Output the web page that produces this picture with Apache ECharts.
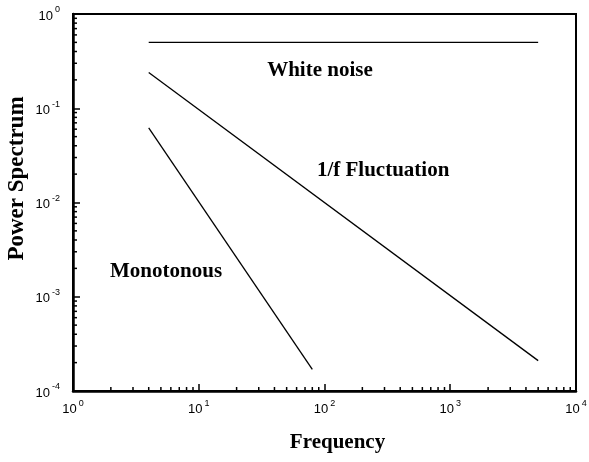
<!DOCTYPE html>
<html>
<head>
<meta charset="utf-8">
<script src="https://cdn.jsdelivr.net/npm/echarts@6/dist/echarts.min.js"></script>
<style>
  html, body { margin: 0; padding: 0; background: #fff; }
  #chart { width: 589px; height: 462px; }
</style>
</head>
<body>
<div id="chart"></div>
<script>
// Power spectra of three kinds of fluctuation (log-log)
const whiteNoise = [[4, 0.5], [5000, 0.5]];
const oneOverF = [[4, 0.24], [5000, 0.00021]];
const monotonous = [[4, 0.062], [80, 0.00017]];

// Axis decade exponents used for the tick labels
const xTickExponents = [0, 1, 2, 3, 4];
const yTickExponents = [-4, -3, -2, -1, 0];

// Curve captions: [text, frequency, power]
const curveLabels = [
  ['White noise', 35, 0.25],
  ['1/f Fluctuation', 87, 0.022],
  ['Monotonous', 1.97, 0.00183]
];

const serif = 'Liberation Serif';
const sans = 'Liberation Sans';

// Minor log ticks at 2..9 within each decade
function minorTicks(exps) {
  const out = [];
  for (let i = 0; i < exps.length - 1; i++) {
    for (let m = 2; m <= 9; m++) out.push(m * Math.pow(10, exps[i]));
  }
  return out;
}
const xMin = Math.pow(10, xTickExponents[0]);
const xMax = Math.pow(10, xTickExponents[xTickExponents.length - 1]);
const yMin = Math.pow(10, yTickExponents[0]);
const yMax = Math.pow(10, yTickExponents[yTickExponents.length - 1]);

const xMinor = minorTicks(xTickExponents).map(v => [v, yMin]);
const yMinor = minorTicks(yTickExponents).map(v => [xMin, v]);

function powLabel(v) {
  const e = Math.round(Math.log10(v));
  return '{b|10}{s|' + e + '}';
}
const tickRich = {
  b: { fontFamily: sans, fontSize: 13, color: '#000', lineHeight: 17, verticalAlign: 'bottom' },
  s: { fontFamily: sans, fontSize: 9, color: '#000', lineHeight: 17, verticalAlign: 'top', padding: [0, 0, 0, 2] }
};

const axisCommon = {
  type: 'log',
  logBase: 10,
  interval: 1,
  nameMoveOverlap: false,
  axisLine: { show: true, lineStyle: { color: '#000', width: 2.5 } },
  axisTick: { show: true, inside: true, length: 7, lineStyle: { color: '#000', width: 1.5 } },
  splitLine: { show: false },
  minorTick: { show: false },
  nameTextStyle: { fontFamily: serif, fontWeight: 'bold', fontSize: 21, color: '#000' }
};

const chart = echarts.init(document.getElementById('chart'), null, { renderer: 'canvas' });

const lineSeries = (name, data) => ({
  name, type: 'line', data,
  showSymbol: false, symbol: 'none',
  lineStyle: { color: '#000', width: 1.3 },
  silent: true, animation: false
});

chart.setOption({
  backgroundColor: '#fff',
  animation: false,
  grid: {
    left: 73, right: 13, top: 14, bottom: 71,
    outerBoundsMode: 'none', containLabel: false,
    show: true, borderColor: '#000', borderWidth: 2, backgroundColor: 'transparent'
  },
  xAxis: Object.assign({}, axisCommon, {
    min: xMin, max: xMax,
    name: 'Frequency', nameLocation: 'middle', nameGap: 41,
    nameTextStyle: Object.assign({}, axisCommon.nameTextStyle, { padding: [0, 0, 0, 26] })
  }, {
    axisLabel: { margin: 8, formatter: powLabel, rich: tickRich }
  }),
  yAxis: Object.assign({}, axisCommon, {
    min: yMin, max: yMax,
    name: 'Power Spectrum', nameLocation: 'middle', nameGap: 44,
    nameTextStyle: Object.assign({}, axisCommon.nameTextStyle, { fontSize: 23, padding: [0, 0, 0, 48] }),
    axisLabel: { margin: 13, formatter: powLabel, rich: tickRich }
  }),
  series: [
    lineSeries('White noise', whiteNoise),
    lineSeries('1/f Fluctuation', oneOverF),
    lineSeries('Monotonous', monotonous),
    {
      type: 'scatter', data: xMinor, clip: false, silent: true,
      symbol: 'rect', symbolSize: [1.5, 4], symbolOffset: [0, -2],
      itemStyle: { color: '#000', opacity: 1 }
    },
    {
      type: 'scatter', data: yMinor, clip: false, silent: true,
      symbol: 'rect', symbolSize: [4, 1.5], symbolOffset: [2, 0],
      itemStyle: { color: '#000', opacity: 1 }
    },
    {
      type: 'scatter', clip: false, silent: true,
      data: curveLabels.map(d => ({ value: [d[1], d[2]], name: d[0] })),
      symbolSize: 0,
      itemStyle: { color: '#000', opacity: 1 },
      label: {
        show: true, position: 'right', distance: 0,
        formatter: p => p.name,
        fontFamily: serif, fontWeight: 'bold', fontSize: 21, color: '#000'
      }
    }
  ]
});
</script>
</body>
</html>
